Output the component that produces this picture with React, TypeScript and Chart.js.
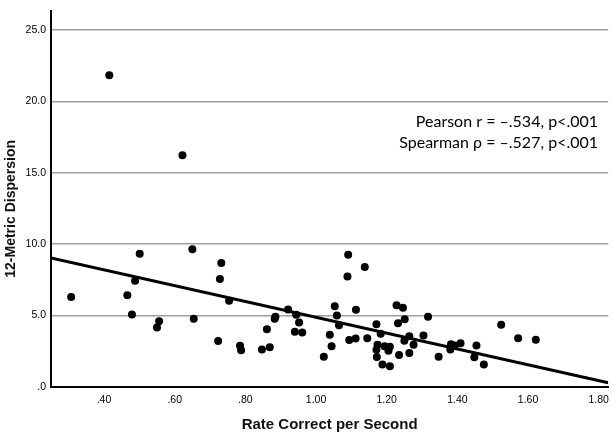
import { useEffect, useRef } from "react";
import { Chart, registerables } from "chart.js";

Chart.register(...registerables);

// rate correct per second (x) and 12-metric dispersion (y)
const rateCorrect = [
  0.307, 0.415, 0.466, 0.479, 0.488, 0.501, 0.55, 0.556, 0.622, 0.65, 0.654,
  0.723, 0.728, 0.732, 0.754, 0.785, 0.788, 0.847, 0.861, 0.869, 0.883, 0.885,
  0.921, 0.94, 0.944, 0.952, 0.961, 1.022, 1.039, 1.044, 1.053, 1.059, 1.065,
  1.089, 1.091, 1.094, 1.112, 1.113, 1.138, 1.145, 1.171, 1.171, 1.172, 1.174,
  1.183, 1.188, 1.194, 1.205, 1.209, 1.209, 1.228, 1.232, 1.235, 1.246, 1.25,
  1.251, 1.264, 1.264, 1.276, 1.304, 1.317, 1.347, 1.38, 1.382, 1.392, 1.409,
  1.448, 1.454, 1.475, 1.524, 1.572, 1.622,
];
const dispersion = [
  6.3, 21.83, 6.42, 5.07, 7.44, 9.32, 4.16, 4.61, 16.23, 9.64, 4.77, 3.22,
  7.56, 8.68, 6.03, 2.88, 2.58, 2.62, 4.04, 2.79, 4.77, 4.91, 5.43, 3.86, 5.05,
  4.52, 3.81, 2.12, 3.65, 2.86, 5.66, 5.0, 4.32, 7.74, 9.25, 3.29, 3.4, 5.41,
  8.4, 3.41, 4.4, 2.6, 2.1, 2.95, 3.72, 1.58, 2.86, 2.53, 2.81, 1.46, 5.73,
  4.47, 2.24, 5.55, 3.24, 4.75, 3.56, 2.38, 2.95, 3.61, 4.91, 2.12, 2.62, 2.99,
  2.9, 3.06, 2.08, 2.9, 1.58, 4.36, 3.42, 3.31,
];

// fit line end points as drawn
const fitX = [0.25, 1.827];
const fitY = [9.04, 0.3];

const xTicks = [0.4, 0.6, 0.8, 1.0, 1.2, 1.4, 1.6, 1.8];
const yTicks = [0, 5, 10, 15, 20, 25];

const statLines = ["Pearson r = \u2013.534, p<.001", "Spearman \u03c1 = \u2013.527, p<.001"];

const fmt = (v: number, d: number) => v.toFixed(d).replace(/^0\./, ".");

const statsPlugin = {
  id: "stats",
  afterDraw(chart: Chart) {
    const ctx = chart.ctx;
    ctx.save();
    ctx.font = "16px Lato";
    ctx.fillStyle = "#000";
    ctx.textAlign = "right";
    ctx.textBaseline = "alphabetic";
    ctx.fillText(statLines[0], 598, 127);
    ctx.fillText(statLines[1], 598, 148);
    ctx.restore();
  },
};

export default function App() {
  const canvasRef = useRef<HTMLCanvasElement>(null);
  const chartRef = useRef<Chart | null>(null);

  useEffect(() => {
    document.body.style.margin = "0";
    if (!canvasRef.current) return;
    const ctx = canvasRef.current.getContext("2d");
    if (!ctx) return;

    if (chartRef.current) chartRef.current.destroy();

    chartRef.current = new Chart(ctx, {
      type: "scatter",
      data: {
        datasets: [
          {
            label: "points",
            data: rateCorrect.map((x, i) => ({ x, y: dispersion[i] })),
            backgroundColor: "#000",
            borderWidth: 0,
            pointRadius: 4,
            order: 2,
          },
          {
            type: "line",
            label: "fit",
            data: fitX.map((x, i) => ({ x, y: fitY[i] })),
            borderColor: "#000",
            borderWidth: 3,
            pointRadius: 0,
            fill: false,
            order: 1,
          } as any,
        ],
      },
      options: {
        responsive: false,
        animation: false,
        layout: { padding: { top: 3, right: 4, left: 0, bottom: 0 } },
        plugins: {
          legend: { display: false },
          tooltip: { enabled: false },
        },
        scales: {
          x: {
            type: "linear",
            min: 0.25,
            max: 1.827,
            afterBuildTicks: (scale: any) => {
              scale.ticks = xTicks.map((value) => ({ value }));
            },
            afterFit: (scale: any) => {
              scale.height = 51;
            },
            grid: { display: false, drawTicks: false },
            border: { display: true, color: "#000", width: 2 },
            ticks: {
              padding: 7,
              color: "#000",
              font: { family: "Liberation Sans", size: 10.5 },
              callback: (v: any) => fmt(Number(v), 2),
            },
            title: {
              display: true,
              text: "Rate Correct per Second",
              color: "#111",
              font: { family: "Liberation Sans", size: 15, weight: "bold" },
              padding: { top: 0, bottom: 4 },
            },
          },
          y: {
            type: "linear",
            min: 0,
            max: 26.3,
            afterBuildTicks: (scale: any) => {
              scale.ticks = yTicks.map((value) => ({ value }));
            },
            afterFit: (scale: any) => {
              scale.width = 51;
            },
            grid: {
              drawTicks: false,
              color: (c: any) => (c.tick && c.tick.value === 0 ? "rgba(0,0,0,0)" : "#9e9e9e"),
              lineWidth: 1.5,
            },
            border: { display: true, color: "#000", width: 2 },
            ticks: {
              padding: 5,
              color: "#000",
              font: { family: "Liberation Sans", size: 10.5 },
              callback: (v: any) => fmt(Number(v), 1),
            },
            title: {
              display: true,
              text: "12-Metric Dispersion     ",
              color: "#111",
              font: { family: "Liberation Sans", size: 14, weight: "bold" },
              padding: { top: 3, bottom: 0 },
            },
          },
        },
      },
      plugins: [statsPlugin],
    });

    return () => {
      if (chartRef.current) {
        chartRef.current.destroy();
        chartRef.current = null;
      }
    };
  }, []);

  return (
    <div style={{ width: 616, height: 438 }}>
      <canvas ref={canvasRef} width={616} height={438} />
    </div>
  );
}
